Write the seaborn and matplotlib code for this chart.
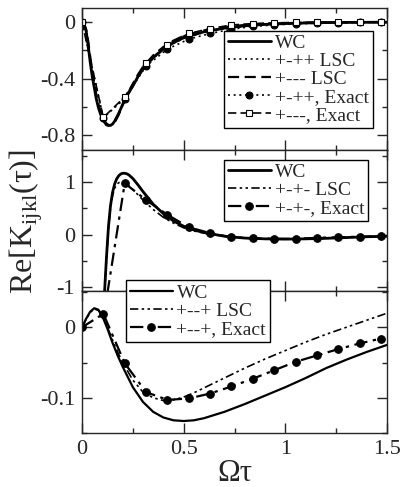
import matplotlib
matplotlib.use('Agg')
import matplotlib.pyplot as plt
import numpy as np
import seaborn as sns

# ---- panel 1 : +-++ / +--- ----
x1_wc = [0, 0.01, 0.02, 0.03, 0.04, 0.05, 0.06, 0.07, 0.08, 0.09, 0.10, 0.11, 0.12, 0.13, 0.14, 0.15,
         0.16, 0.18, 0.20, 0.225, 0.25, 0.275, 0.30, 0.35, 0.40, 0.45, 0.50, 0.60, 0.70, 0.80, 0.90, 1.0,
         1.1, 1.2, 1.3, 1.4, 1.5]
y1_wc = [0, -0.015, -0.06, -0.16, -0.28, -0.38, -0.46, -0.54, -0.60, -0.645, -0.68, -0.705, -0.725, -0.73,
         -0.728, -0.72, -0.70, -0.645, -0.58, -0.51, -0.45, -0.385, -0.33, -0.25, -0.19, -0.145, -0.11,
         -0.068, -0.042, -0.026, -0.016, -0.01, -0.006, -0.003, -0.002, -0.001, 0]
y1_lsc_a = [0, -0.014, -0.058, -0.155, -0.27, -0.37, -0.45, -0.53, -0.595, -0.64, -0.675, -0.70, -0.72, -0.727,
            -0.726, -0.718, -0.70, -0.648, -0.585, -0.515, -0.455, -0.39, -0.335, -0.255, -0.195, -0.15, -0.115,
            -0.072, -0.045, -0.028, -0.017, -0.011, -0.007, -0.004, -0.002, -0.001, 0]
y1_lsc_b = [0, -0.012, -0.05, -0.13, -0.24, -0.34, -0.43, -0.51, -0.575, -0.625, -0.665, -0.695, -0.715, -0.725,
            -0.728, -0.725, -0.71, -0.655, -0.585, -0.505, -0.435, -0.37, -0.315, -0.235, -0.175, -0.13, -0.097,
            -0.058, -0.035, -0.02, -0.012, -0.007, -0.004, -0.002, -0.001, 0, 0]
x_pts = [0, 0.105, 0.21, 0.315, 0.42, 0.525, 0.63, 0.735, 0.84, 0.945, 1.05, 1.155, 1.26, 1.365, 1.47]
y1_ex_a = [0, -0.675, -0.54, -0.31, -0.19, -0.12, -0.08, -0.05, -0.03, -0.02, -0.012, -0.007, -0.004, -0.002, -0.001]
y1_ex_b = [0, -0.673, -0.527, -0.29, -0.158, -0.08, -0.045, -0.02, -0.01, -0.005, -0.002, -0.001, 0, 0, 0]

# ---- panel 2 : +-+- ----
x2_wc = [0.10, 0.11, 0.12, 0.13, 0.14, 0.15, 0.16, 0.17, 0.18, 0.19, 0.20, 0.21, 0.22, 0.23, 0.25, 0.275,
         0.30, 0.35, 0.40, 0.45, 0.50, 0.55, 0.60, 0.70, 0.80, 0.90, 1.0, 1.1, 1.2, 1.3, 1.4, 1.5]
y2_wc = [-2.0, -1.15, -0.45, 0.15, 0.55, 0.80, 0.96, 1.06, 1.12, 1.155, 1.17, 1.17, 1.16, 1.14, 1.07, 0.95,
         0.82, 0.58, 0.40, 0.26, 0.16, 0.09, 0.04, -0.03, -0.065, -0.08, -0.085, -0.08, -0.07, -0.055, -0.04, -0.03]
y2_lsc = [-2.0, -1.2, -0.5, 0.10, 0.50, 0.74, 0.88, 0.95, 0.99, 1.0, 1.0, 0.99, 0.96, 0.93, 0.86, 0.76,
          0.66, 0.48, 0.33, 0.22, 0.13, 0.07, 0.03, -0.03, -0.065, -0.08, -0.085, -0.08, -0.07, -0.055, -0.04, -0.03]
y2_ex = [-2.0, -1.6, 0.98, 0.66, 0.38, 0.14, 0.03, -0.05, -0.07, -0.08, -0.08, -0.06, -0.05, -0.04, -0.03]

# ---- panel 3 : +--+ ----
x3_wc = [0, 0.02, 0.04, 0.06, 0.08, 0.10, 0.125, 0.15, 0.175, 0.20, 0.25, 0.30, 0.35, 0.40, 0.45, 0.50,
         0.55, 0.60, 0.70, 0.80, 0.90, 1.0, 1.1, 1.2, 1.3, 1.4, 1.5]
y3_wc = [0, 0.012, 0.022, 0.027, 0.025, 0.016, -0.002, -0.022, -0.04, -0.056, -0.085, -0.106, -0.12, -0.128,
         -0.132, -0.133, -0.132, -0.129, -0.12, -0.109, -0.097, -0.085, -0.072, -0.058, -0.046, -0.035, -0.025]
y3_lsc = [0, 0.011, 0.021, 0.026, 0.024, 0.016, 0.0, -0.018, -0.035, -0.05, -0.075, -0.092, -0.10, -0.104,
          -0.103, -0.099, -0.093, -0.086, -0.072, -0.058, -0.045, -0.033, -0.021, -0.01, 0.0, 0.01, 0.02]
y3_ex = [0, 0.019, -0.051, -0.092, -0.103, -0.101, -0.094, -0.084, -0.073, -0.061, -0.049, -0.04, -0.031,
         -0.023, -0.016]

sns.set_theme(style='ticks')
plt.rcParams['font.family'] = ['Liberation Serif', 'DejaVu Serif']
plt.rcParams['mathtext.fontset'] = 'custom'
plt.rcParams['mathtext.rm'] = 'Liberation Serif'
plt.rcParams['axes.unicode_minus'] = False
plt.rcParams['axes.linewidth'] = 1.0

fig, axes = plt.subplots(3, 1, figsize=(4.07, 4.87), dpi=100, sharex=True,
                         gridspec_kw={'hspace': 0})
fig.subplots_adjust(left=0.2015, right=0.951, top=0.9836, bottom=0.1109)
ax1, ax2, ax3 = axes

k = dict(color='black', estimator=None, sort=False)
dot = (1.2, 2.2)
dash = (5, 2.5)
dashdot = (6, 2.5, 1.5, 2.5)
dashdotdot = (5, 2, 1.5, 2, 1.5, 2)

# panel 1
sns.lineplot(x=x1_wc, y=y1_wc, ax=ax1, lw=2, label='WC', **k)
sns.lineplot(x=x1_wc, y=y1_lsc_a, ax=ax1, lw=1.2, label='+-++ LSC', **k)
sns.lineplot(x=x1_wc, y=y1_lsc_b, ax=ax1, lw=1.6, label='+--- LSC', **k)
sns.lineplot(x=x_pts, y=y1_ex_a, ax=ax1, lw=1.2, marker='o', markersize=5, markeredgecolor='black',
             label='+-++, Exact', **k)
sns.lineplot(x=x_pts, y=y1_ex_b, ax=ax1, lw=1.2, marker='s', markersize=5, markerfacecolor='white',
             markeredgecolor='black', markeredgewidth=0.8, label='+---, Exact', **k)
l1 = ax1.get_lines()
l1[1].set_dashes(dot)
l1[2].set_dashes(dash)
l1[3].set_dashes(dot)
l1[4].set_dashes(dash)

# panel 2
sns.lineplot(x=x2_wc, y=y2_wc, ax=ax2, lw=2, label='WC', **k)
sns.lineplot(x=x2_wc, y=y2_lsc, ax=ax2, lw=1.2, label='+-+- LSC', **k)
sns.lineplot(x=x_pts, y=y2_ex, ax=ax2, lw=1.6, marker='o', markersize=5.5, markeredgecolor='black',
             label='+-+-, Exact', **k)
l2 = ax2.get_lines()
l2[1].set_dashes(dashdotdot)
l2[2].set_dashes(dashdot)

# panel 3
sns.lineplot(x=x3_wc, y=y3_wc, ax=ax3, lw=1.6, label='WC', **k)
sns.lineplot(x=x3_wc, y=y3_lsc, ax=ax3, lw=1.2, label='+--+ LSC', **k)
sns.lineplot(x=x_pts, y=y3_ex, ax=ax3, lw=1.6, marker='o', markersize=5.5, markeredgecolor='black',
             label='+--+, Exact', **k)
l3 = ax3.get_lines()
l3[1].set_dashes(dashdotdot)
l3[2].set_dashes(dashdot)

ax1.set_ylim(-0.9, 0.1)
ax1.set_yticks([0, -0.4, -0.8], ['0', '-0.4', '-0.8'])
ax1.set_yticks([-0.2, -0.6], minor=True)
ax2.set_ylim(-1.08, 1.62)
ax2.set_yticks([1, 0, -1], ['1', '0', '-1'])
ax2.set_yticks([1.5, 0.5, -0.5], minor=True)
ax3.set_ylim(-0.15, 0.051)
ax3.set_yticks([0, -0.1], ['0', '-0.1'])
ax3.set_yticks([0.05, -0.05, -0.15], minor=True)
ax3.set_xlim(0, 1.5)
ax3.set_xticks([0, 0.5, 1, 1.5], ['0', '0.5', '1', '1.5'])
ax3.set_xticks([0.25, 0.75, 1.25], minor=True)

for ax in axes:
    ax.tick_params(which='both', direction='in', top=True, right=True, labelsize=16, width=1.0, pad=5)
    ax.tick_params(which='major', length=7)
    ax.tick_params(which='minor', length=3.5)
    ax.set_xlabel('')
    ax.set_ylabel('')

leg_kw = dict(fontsize=14, frameon=True, fancybox=False, edgecolor='black', framealpha=1,
              handlelength=2.2, handletextpad=0.2, borderpad=0.2, labelspacing=0.02, borderaxespad=0)
lg = ax1.legend(loc='upper left', bbox_to_anchor=(0.466, 0.84), **leg_kw)
lg.get_frame().set_linewidth(1.0)
lg = ax2.legend(loc='upper left', bbox_to_anchor=(0.466, 0.93), **leg_kw)
lg.get_frame().set_linewidth(1.0)
lg = ax3.legend(loc='upper left', bbox_to_anchor=(0.144, 1.078), **leg_kw)
lg.get_frame().set_linewidth(1.0)
ax3.set_zorder(3)
ax2.set_zorder(2)

ax3.set_xlabel('Ωτ', fontsize=22, labelpad=0)
fig.text(0.064, 0.546, r'Re[K$_{\mathrm{ijkl}}$(τ)]', rotation=90, fontsize=23,
         ha='center', va='center')

fig.savefig('out.png', dpi=100)
